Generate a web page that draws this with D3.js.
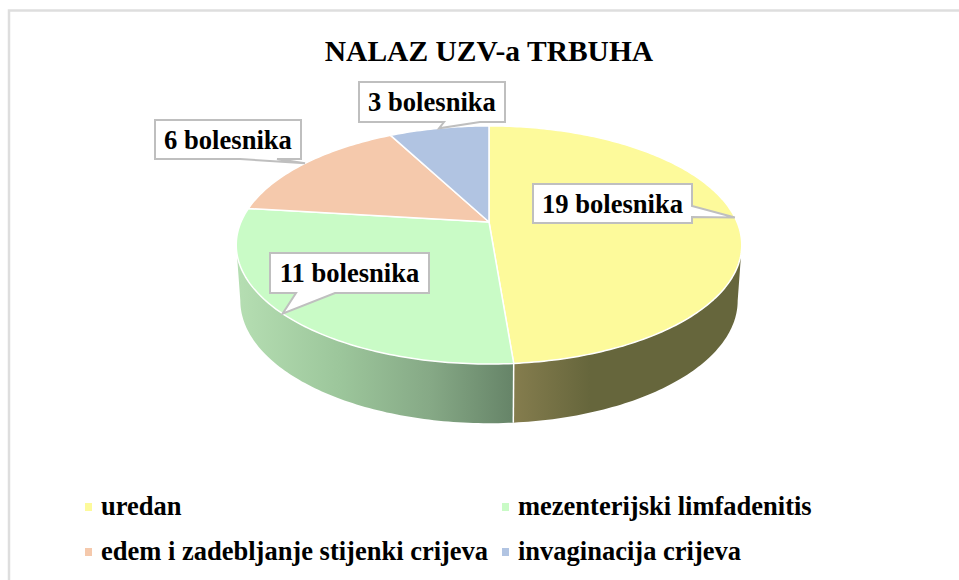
<!DOCTYPE html>
<meta charset="utf-8">
<style>
    body { margin: 0; background: #fff; }
    svg { display: block; font-family: "Liberation Serif", serif; font-weight: bold; }
</style>
<body>
<script src="https://d3js.org/d3.v7.min.js"></script>
<script>
    const categories = ['uredan', 'mezenterijski limfadenitis', 'edem i zadebljanje stijenki crijeva', 'invaginacija crijeva'];
    const patients = [19, 11, 6, 3];
    const colors = ['#fdfa9b', '#c9fbc6', '#f5c9ac', '#b1c4e2'];
    const title = 'NALAZ UZV-a TRBUHA';
    const unit = 'bolesnika';

    // callout boxes: x, y of the top left corner, size, and where the tail leaves the box
    const boxes = [
        {x: 533, y: 184, w: 159, h: 39, tail: [[692, 206], [692, 217]]},
        {x: 270, y: 253, w: 159, h: 40, tail: [[335, 293], [296, 293]]},
        {x: 155, y: 120, w: 146, h: 39, tail: [[277, 159], [240, 159]]},
        {x: 359, y: 82, w: 146, h: 40, tail: [[480, 122], [444, 122]]}
    ];

    const width = 959, height = 580;
    const svg = d3.select('body').append('svg').attr('width', width).attr('height', height);

    // frame
    svg.append('path')
        .attr('d', `M9,580V10.5H${width}`)
        .attr('fill', 'none')
        .attr('stroke', '#dedede')
        .attr('stroke-width', 2.5);

    svg.append('text')
        .attr('x', 489).attr('y', 61)
        .attr('text-anchor', 'middle')
        .attr('font-size', 29.5)
        .text(title);

    // disc seen in perspective, theta clockwise from the top
    const persp = 0.193;
    const topDisc = {cx: 489, cy: 222, a: 248, b: 114.6};
    const bottomDisc = {cx: 489, cy: 277, a: 244, b: 118};
    function project(disc, theta, r = 1) {
        const u = r * Math.sin(theta), v = -r * Math.cos(theta);
        const w = 1 - persp * v;
        return [disc.cx + disc.a * u / w, disc.cy + disc.b * v / w];
    }
    function arcPoints(disc, a0, a1) {
        const n = Math.max(2, Math.ceil(Math.abs(a1 - a0) * 60));
        return d3.range(n + 1).map(i => project(disc, a0 + (a1 - a0) * i / n));
    }
    const line = d3.line();

    const pie = d3.pie().sort(null)(patients);

    const defs = svg.append('defs');
    function wallGradient(id, stops) {
        const g = defs.append('linearGradient').attr('id', id)
            .attr('gradientUnits', 'userSpaceOnUse')
            .attr('x1', stops[0][0]).attr('x2', stops[stops.length - 1][0])
            .attr('y1', 0).attr('y2', 0);
        stops.forEach(s => g.append('stop')
            .attr('offset', (s[0] - stops[0][0]) / (stops[stops.length - 1][0] - stops[0][0]))
            .attr('stop-color', s[1]));
    }
    wallGradient('wall0', [[513, '#857d4e'], [590, '#66663c'], [740, '#66663c']]);
    wallGradient('wall1', [[238, '#b5deb2'], [340, '#9cc69b'], [430, '#86a986'], [513, '#668468']]);

    // side wall, only the front facing part of the first two slices
    const silhouette = Math.PI - Math.acos(persp);
    [[silhouette, pie[0].endAngle, 'wall0'], [pie[1].startAngle, 2 * Math.PI - silhouette, 'wall1']].forEach(w => {
        const pts = arcPoints(topDisc, w[0], w[1]).concat(arcPoints(bottomDisc, w[1], w[0]));
        svg.append('path')
            .attr('d', line(pts) + 'Z')
            .attr('fill', `url(#${w[2]})`);
    });
    // seam between the two walls
    svg.append('path')
        .attr('d', line([project(topDisc, pie[0].endAngle), project(bottomDisc, pie[0].endAngle)]))
        .attr('stroke', '#fff').attr('stroke-width', 1.5);

    // top of the pie
    svg.selectAll('.slice')
        .data(pie)
        .enter().append('path')
        .attr('class', 'slice')
        .attr('d', d => line([[topDisc.cx, topDisc.cy]].concat(arcPoints(topDisc, d.startAngle, d.endAngle))) + 'Z')
        .attr('fill', (d, i) => colors[i])
        .attr('stroke', '#fff')
        .attr('stroke-width', 1.5)
        .attr('stroke-linejoin', 'round');

    // callouts, the tail points at the middle of the slice on the rim
    const callout = svg.selectAll('.callout')
        .data(pie)
        .enter().append('g')
        .attr('class', 'callout');

    callout.append('path')
        .attr('d', (d, i) => {
            const b = boxes[i];
            const tip = project(topDisc, (d.startAngle + d.endAngle) / 2);
            const corners = [[b.x, b.y], [b.x + b.w, b.y], [b.x + b.w, b.y + b.h], [b.x, b.y + b.h]];
            // the tail goes into the side of the box it leaves from
            const pts = i === 0
                ? [corners[0], corners[1], b.tail[0], tip, b.tail[1], corners[2], corners[3]]
                : [corners[0], corners[1], corners[2], b.tail[0], tip, b.tail[1], corners[3]];
            return line(pts) + 'Z';
        })
        .attr('fill', '#fff')
        .attr('stroke', '#bfbfbf')
        .attr('stroke-width', 2);

    callout.append('text')
        .attr('x', (d, i) => boxes[i].x + boxes[i].w / 2)
        .attr('y', (d, i) => boxes[i].y + 29)
        .attr('text-anchor', 'middle')
        .attr('font-size', 26.6)
        .text(d => d.data + ' ' + unit);

    // legend
    const legendX = [85, 502], legendY = [507, 552];
    const legend = svg.selectAll('.legend')
        .data(categories)
        .enter().append('g')
        .attr('class', 'legend')
        .attr('transform', (d, i) => `translate(${legendX[i % 2]},${legendY[Math.floor(i / 2)]})`);

    legend.append('rect')
        .attr('y', -4).attr('width', 7).attr('height', 8)
        .attr('fill', (d, i) => colors[i]);

    legend.append('text')
        .attr('x', 16).attr('y', 8)
        .attr('font-size', 26.5)
        .text(d => d);
</script>
</body>
</html>
